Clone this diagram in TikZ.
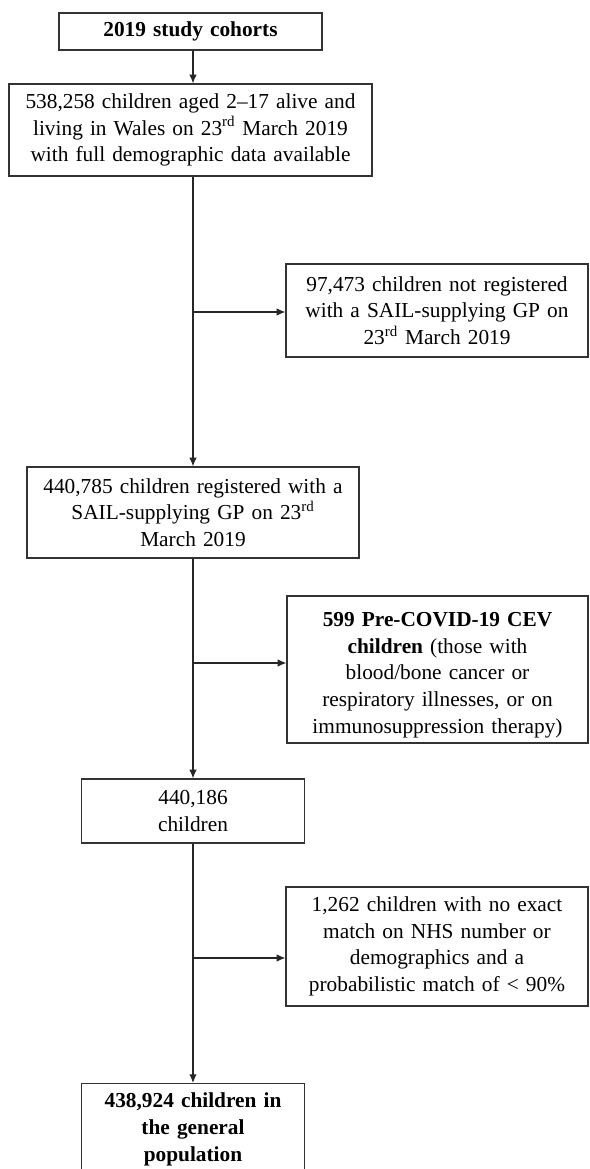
\documentclass[tikz,border=0pt]{standalone}
\usepackage{fontspec}
\setmainfont{Liberation Serif}
\usetikzlibrary{arrows.meta}

\tikzset{
  flowbox/.style={draw=black!80, line width=0.9pt, inner sep=0pt, align=center,
    font=\fontsize{16}{20}\selectfont},
  flowline/.style={line width=0.8pt, black!85},
  flowarrow/.style={flowline, -{Latex[length=6.5pt,width=5.5pt]}}
}

\begin{document}
\begin{tikzpicture}[x=0.75pt,y=0.75pt,yscale=-1,xscale=1]
    \useasboundingbox (0,0) rectangle (589,1169);

    % Shape: Box [main trunk]
    \node (cohort) at (190.5,31.5) [flowbox, minimum width=197.25pt, minimum height=27.75pt, text width=190pt] {\textbf{2019 study cohorts}};
    % Shape: Box
    \node (alive) at (190.5,130) [flowbox, minimum width=272.25pt, minimum height=69pt, text width=266pt] {538,258 children aged 2--17 alive and\\ living in Wales on 23\textsuperscript{rd} March 2019\\ with full demographic data available};
    % Shape: Box
    \node (regd) at (193,512.5) [flowbox, minimum width=249pt, minimum height=68.25pt, text width=242pt] {440,785 children registered with a\\ SAIL-supplying GP on 23\textsuperscript{rd}\\ March 2019};
    % Shape: Box
    \node (remain) at (193,811) [flowbox, minimum width=167pt, minimum height=48pt, text width=160pt] {440,186\\ children};
    % Shape: Box
    \node (general) at (193,1083) [flowbox, anchor=north, minimum width=167pt, inner ysep=7pt, text width=160pt] {\textbf{438,924 children in}\\ \textbf{the general}\\ \textbf{population}};

    % Shape: Box [exclusions]
    \node (notreg) at (437,310.5) [flowbox, minimum width=226.5pt, minimum height=69.75pt, text width=220pt] {97,473 children not registered\\ with a SAIL-supplying GP on\\ 23\textsuperscript{rd} March 2019};
    % Shape: Box
    \node (cev) at (437.5,669.5) [flowbox, minimum width=225.75pt, minimum height=110.25pt, text width=220pt] {\rule{0pt}{19pt}\textbf{599 Pre-COVID-19 CEV}\\ \textbf{children} (those with\\ blood/bone cancer or\\ respiratory illnesses, or on\\ immunosuppression therapy)};
    % Shape: Box
    \node (nomatch) at (437,946.5) [flowbox, minimum width=226.5pt, minimum height=89.25pt, text width=220pt] {1,262 children with no exact\\ match on NHS number or\\ demographics and a\\ probabilistic match of < 90\%};

    % Junctions on the trunk
    \coordinate (j1) at (193,312);
    \coordinate (j2) at (193,663);
    \coordinate (j3) at (193,958);

    % Arrows
    \draw [flowarrow] (cohort.south -| regd.north) -- (alive.north -| regd.north);
    \draw [flowarrow] (alive.south -| regd.north) -- (regd.north);
    \draw [flowarrow] (regd.south) -- (remain.north);
    \draw [flowarrow] (remain.south) -- (general.north);
    \draw [flowarrow] (j1) -- (j1 -| notreg.west);
    \draw [flowarrow] (j2) -- (j2 -| cev.west);
    \draw [flowarrow] (j3) -- (j3 -| nomatch.west);

\end{tikzpicture}
\end{document}
